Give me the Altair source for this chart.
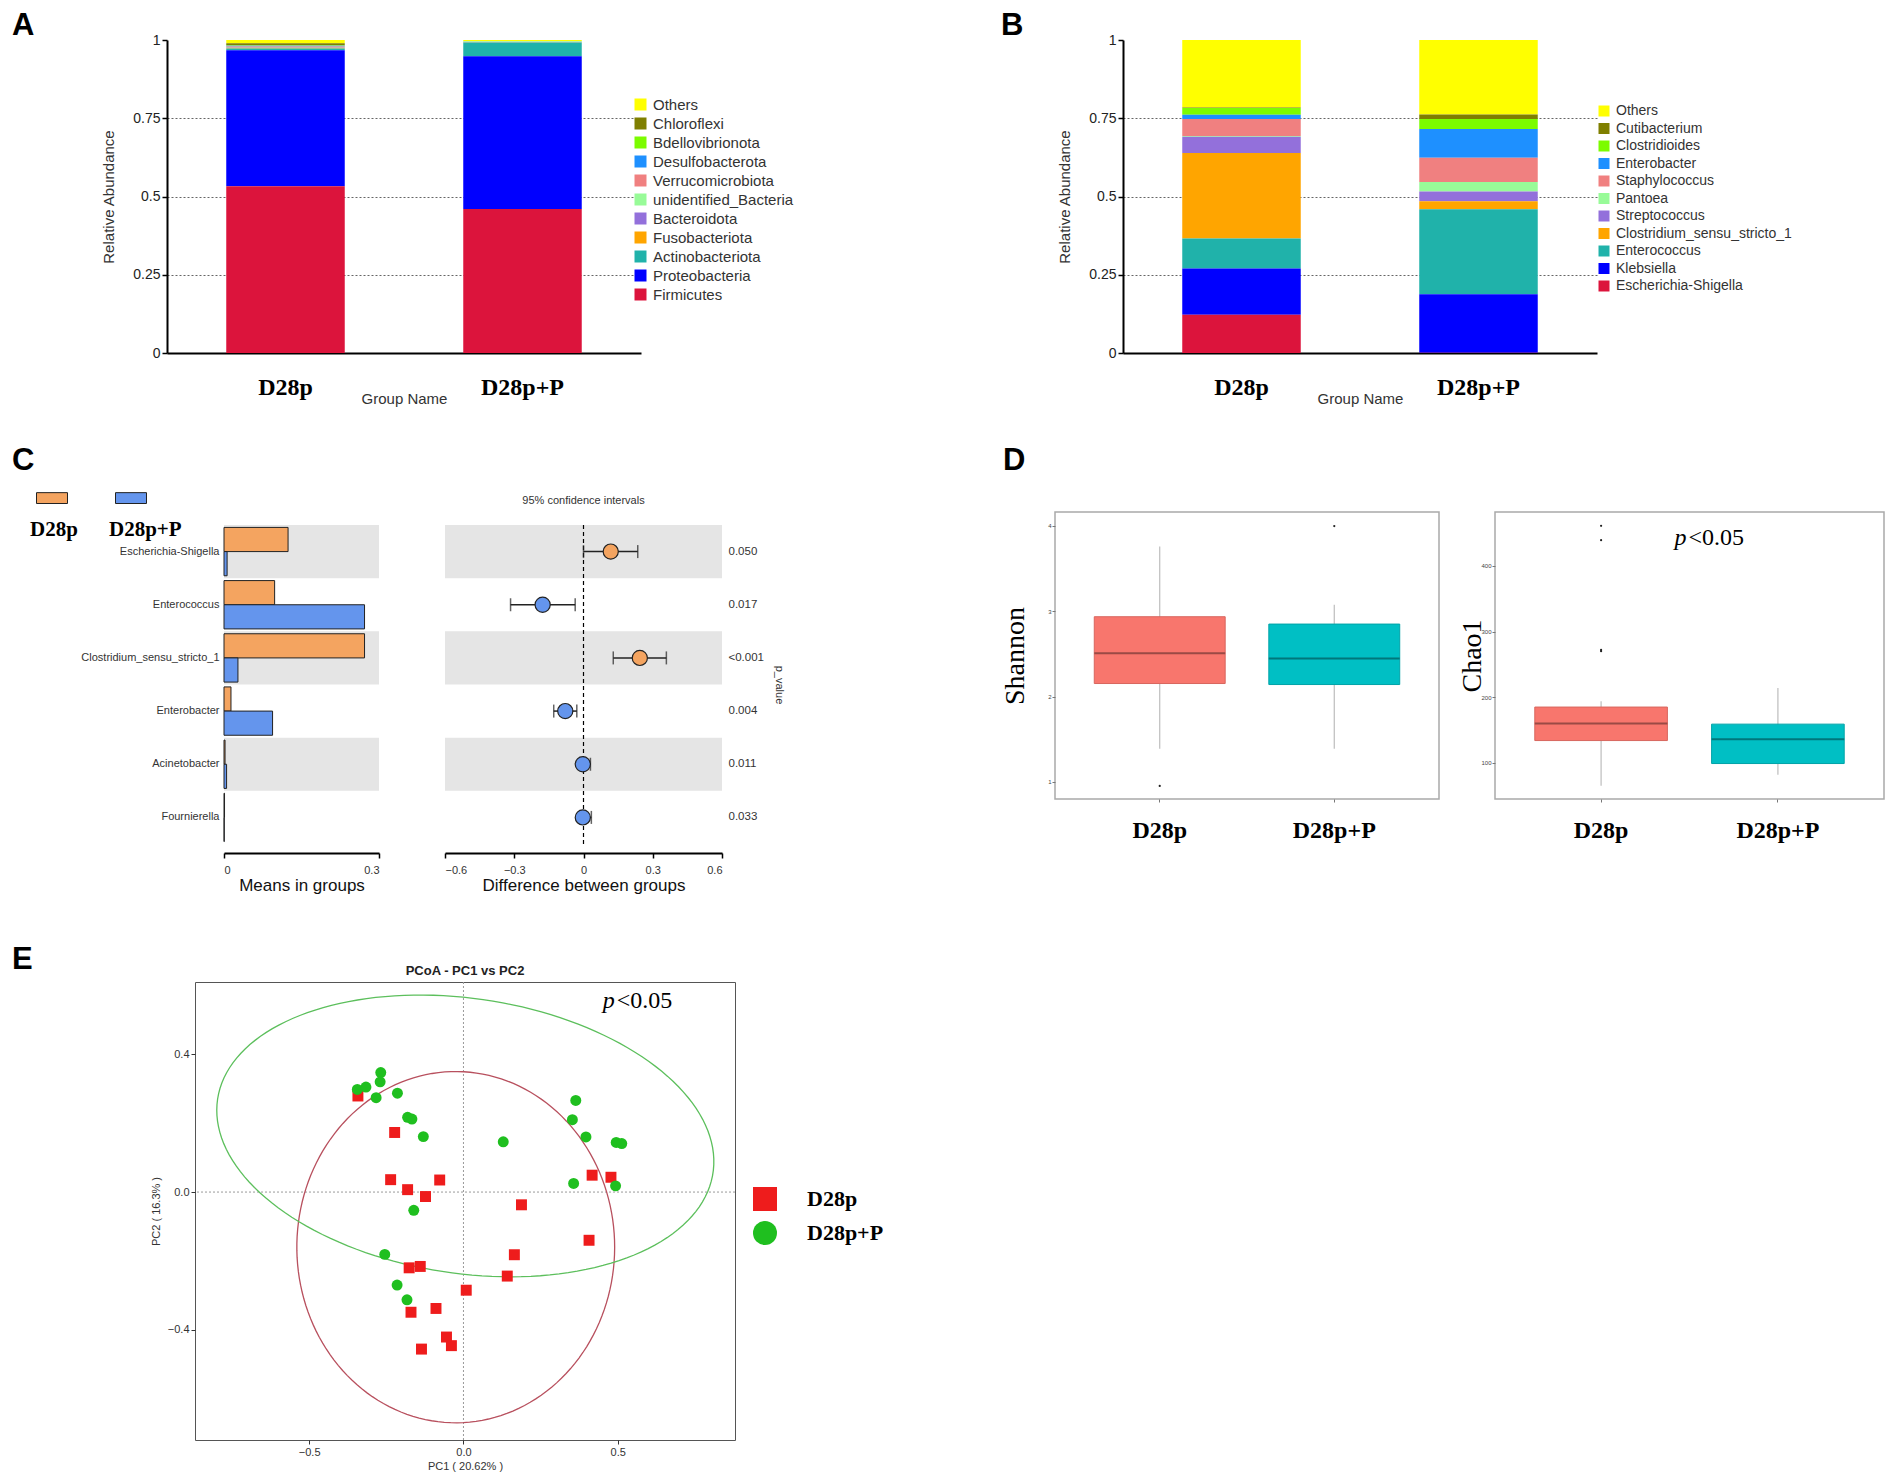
import altair as alt
import pandas as pd

SANS = "Liberation Sans, Arial, sans-serif"
NARROW = "Liberation Sans Narrow, Arial Narrow, Liberation Sans, sans-serif"
SERIF = "Liberation Serif, Times New Roman, serif"

GROUPS = ["D28p", "D28p+P"]

# ---------------- Panel A (phylum level) ----------------
PHYLA = ["Others", "Chloroflexi", "Bdellovibrionota", "Desulfobacterota", "Verrucomicrobiota",
         "unidentified_Bacteria", "Bacteroidota", "Fusobacteriota", "Actinobacteriota",
         "Proteobacteria", "Firmicutes"]
PHYLA_D28P = [0.010, 0.007, 0.001, 0.003, 0.001, 0.001, 0.002, 0.002, 0.006, 0.434, 0.533]
PHYLA_D28PP = [0.004, 0.000, 0.000, 0.001, 0.000, 0.001, 0.001, 0.001, 0.044, 0.488, 0.460]

# ---------------- Panel B (genus level) ----------------
GENERA = ["Others", "Cutibacterium", "Clostridioides", "Enterobacter", "Staphylococcus", "Pantoea",
          "Streptococcus", "Clostridium_sensu_stricto_1", "Enterococcus", "Klebsiella",
          "Escherichia-Shigella"]
GENERA_D28P = [0.216, 0.001, 0.022, 0.013, 0.055, 0.002, 0.052, 0.273, 0.096, 0.148, 0.122]
GENERA_D28PP = [0.238, 0.014, 0.032, 0.092, 0.078, 0.030, 0.031, 0.026, 0.271, 0.187, 0.001]

TAXA_COLORS = ["#FFFF00", "#7F7F00", "#7CFC00", "#1E90FF", "#F08080", "#98FB98",
               "#9370DB", "#FFA500", "#20B2AA", "#0000FF", "#DC143C"]

# ---------------- Panel C (STAMP) ----------------
C_GENERA = ["Escherichia-Shigella", "Enterococcus", "Clostridium_sensu_stricto_1",
            "Enterobacter", "Acinetobacter", "Fournierella"]
MEAN_D28P = [0.124, 0.098, 0.272, 0.0135, 0.002, 0.001]
MEAN_D28PP = [0.006, 0.272, 0.027, 0.094, 0.005, 0.0005]
DIFF = [0.118, -0.177, 0.244, -0.079, -0.003, -0.003]
CI_LO = [0.000, -0.316, 0.129, -0.129, -0.012, -0.012]
CI_HI = [0.235, -0.036, 0.359, -0.029, 0.030, 0.034]
DIFF_GROUP = ["D28p", "D28p+P", "D28p", "D28p+P", "D28p+P", "D28p+P"]
P_VALUES = ["0.050", "0.017", "<0.001", "0.004", "0.011", "0.033"]
C_COLORS = ["#F4A460", "#6495ED"]
ZERO = [0.0]

# ---------------- Panel D (alpha diversity) ----------------
BOX_COLORS = ["#F8766D", "#00BFC4"]
BOX_EDGE_COLORS = ["#D8665E", "#00A3A8"]
BOX_MEDIAN_COLORS = ["#9A4A45", "#00777B"]
SHANNON_LO = [1.389, 1.389]
SHANNON_Q1 = [2.152, 2.140]
SHANNON_MED = [2.506, 2.444]
SHANNON_Q3 = [2.934, 2.848]
SHANNON_HI = [3.755, 3.074]
SHANNON_OUT_GROUP = ["D28p", "D28p+P"]
SHANNON_OUT = [0.953, 3.996]
CHAO_LO = [65, 82]
CHAO_Q1 = [134, 99]
CHAO_MED = [160, 136]
CHAO_Q3 = [185, 159]
CHAO_HI = [194, 214]
CHAO_OUT_GROUP = ["D28p", "D28p", "D28p", "D28p"]
CHAO_OUT = [270, 272, 439, 461]
CHAO_P_Y = [442]

# ---------------- Panel E (PCoA) ----------------
D28P_PC1 = [-0.342, -0.223, -0.236, -0.181, -0.123, -0.077, 0.188, 0.417, 0.478, 0.407,
            0.165, 0.142, -0.176, -0.140, 0.009, -0.089, -0.170, -0.055, -0.039, -0.136]
D28P_PC2 = [0.279, 0.173, 0.036, 0.007, -0.013, 0.035, -0.037, 0.049, 0.043, -0.140,
            -0.182, -0.244, -0.220, -0.216, -0.285, -0.338, -0.349, -0.421, -0.446, -0.456]
D28PP_PC1 = [-0.344, -0.316, -0.268, -0.270, -0.283, -0.214, -0.181, -0.167, -0.130, 0.129,
             0.364, 0.353, 0.397, 0.495, 0.513, 0.357, 0.493, -0.161, -0.255, -0.215, -0.183]
D28PP_PC2 = [0.298, 0.305, 0.347, 0.320, 0.274, 0.287, 0.217, 0.212, 0.161, 0.146,
             0.266, 0.210, 0.160, 0.144, 0.141, 0.025, 0.018, -0.053, -0.181, -0.270, -0.313]
PCOA_COLORS = ["#EE1C1C", "#1FBF1F"]
ELLIPSE_CX = [-0.025, 0.006]
ELLIPSE_CY = [-0.160, 0.163]
ELLIPSE_A = [0.515, 0.81]
ELLIPSE_B = [0.510, 0.40]
ELLIPSE_ANGLE_DEG = [0, -7]
ELLIPSE_COLORS = ["#B8505E", "#5CBF5C"]
PCOA_P_POS = [0.49, 0.556]


def num(v):
    return {"expr": str(v)}


def letter_title(text, dx, offset):
    return alt.TitleParams(text, anchor="start", frame="group", dx=dx, offset=num(offset),
                           fontSize=31, font=SANS, fontWeight="bold", color="black",
                           baseline="alphabetic")


def spacer():
    return alt.Chart(pd.DataFrame({"s": [0]})).mark_point(opacity=0, size=0).properties(
        width=1, height=1)


def hwrap(chart):
    # a 1px spacer first: the wrapper's origin becomes the left edge of the chart's bounds
    return alt.hconcat(spacer(), chart, spacing=0).resolve_scale(
        color="independent", fill="independent", shape="independent", stroke="independent")


def vwrap(chart):
    # a 1px spacer on top: the wrapper's origin becomes the top edge of the chart's bounds
    return alt.vconcat(spacer(), chart, spacing=0).resolve_scale(
        color="independent", fill="independent", shape="independent", stroke="independent")


# ---------------- stacked bar panels ----------------
def stacked_chart(taxa, v1, v2, letter, letter_dx, legend_x, legend_y, label_size, row_pad, sym):
    rows = []
    for g, vals in zip(GROUPS, (v1, v2)):
        for i, (t, v) in enumerate(zip(taxa, vals)):
            rows.append({"group": g, "taxon": t, "value": v, "rank": len(taxa) - 1 - i})
    df = pd.DataFrame(rows)
    return alt.Chart(df).mark_bar().encode(
        x=alt.X("group:N", sort=GROUPS,
                scale=alt.Scale(domain=GROUPS, paddingInner=0.5, paddingOuter=0.25),
                axis=alt.Axis(title="Group Name", labelAngle=0, labelFont=SERIF,
                              labelFontWeight="bold", labelFontSize=24, labelColor="black",
                              labelPadding=22, ticks=False, tickSize=0, domainColor="black",
                              domainWidth=2, titleFont=NARROW, titleFontSize=15,
                              titleFontWeight="normal", titleColor="#333", titlePadding=num(-8))),
        y=alt.Y("value:Q", stack="zero", scale=alt.Scale(domain=[0, 1], nice=False),
                axis=alt.Axis(title="Relative Abundance", values=[0, 0.25, 0.5, 0.75, 1],
                              labelExpr="'' + datum.value", labelFont=NARROW, labelFontSize=14,
                              labelColor="#222", tickColor="black", tickSize=5, tickWidth=1.5,
                              domainColor="black", domainWidth=2, grid=True, gridColor="#666",
                              gridDash=[2, 2], gridWidth=1,
                              gridOpacity={"condition": {"test": "datum.value > 0.01 && datum.value < 0.99",
                                                         "value": 1}, "value": 0},
                              titleFont=SANS, titleFontSize=15, titleFontWeight="normal",
                              titleColor="#333", titlePadding=16)),
        color=alt.Color("taxon:N", scale=alt.Scale(domain=taxa, range=TAXA_COLORS),
                        legend=alt.Legend(title=None, orient="none", legendX=legend_x,
                                          legendY=legend_y, symbolType="square",
                                          symbolSize=sym, symbolStrokeWidth=0,
                                          labelFont=NARROW, labelFontSize=label_size,
                                          labelColor="#333", rowPadding=row_pad, labelOffset=5,
                                          labelLimit=400)),
        order=alt.Order("rank:Q", sort="ascending"),
    ).properties(width=474, height=313, title=letter_title(letter, letter_dx, -33))


chart_a = stacked_chart(PHYLA, PHYLA_D28P, PHYLA_D28PP, "A", -155, 466, 57, 15, 3, 144)
chart_b = stacked_chart(GENERA, GENERA_D28P, GENERA_D28PP, "B", -122, 474, 64, 14, 3.5, 121)
row1 = alt.hconcat(chart_a, chart_b, spacing=482, bounds="flush").resolve_scale(color="independent")

# ---------------- Panel C ----------------
mean_rows = []
for g, vals in zip(GROUPS, (MEAN_D28P, MEAN_D28PP)):
    for gen, v in zip(C_GENERA, vals):
        mean_rows.append({"genus": gen, "group": g, "mean": v})
mean_df = pd.DataFrame(mean_rows)
shade_df = pd.DataFrame({"genus": C_GENERA[0::2]})
diff_df = pd.DataFrame({"genus": C_GENERA, "diff": DIFF, "lo": CI_LO, "hi": CI_HI, "group": DIFF_GROUP})
zero_df = pd.DataFrame({"zero": ZERO})

c_yscale = alt.Scale(domain=C_GENERA, paddingInner=0, paddingOuter=0)


def c_x_axis(title, values):
    return alt.Axis(title=title, values=values, format="~g", offset=9, grid=False,
                    domainColor="black", domainWidth=2, tickColor="black", tickWidth=1.5,
                    tickSize=5, labelFont=NARROW, labelFontSize=11, labelColor="#333",
                    labelPadding=6, titleFont=NARROW, titleFontSize=17,
                    titleFontWeight="normal", titleColor="#111", titlePadding=2)


mean_y = alt.Y("genus:N", sort=C_GENERA, scale=c_yscale,
               axis=alt.Axis(title=None, domain=False, ticks=False, labelFont=NARROW,
                             labelFontSize=11, labelColor="#333", labelPadding=5))
mean_x_scale = alt.Scale(domain=[0, 0.3], nice=False)

means_bg = alt.Chart(shade_df).mark_rect(color="#E5E5E5").encode(y=mean_y)
means_bars = alt.Chart(mean_df).mark_bar(stroke="#222", strokeWidth=1).encode(
    x=alt.X("mean:Q", scale=mean_x_scale, axis=c_x_axis("Means in groups", [0, 0.3])),
    y=mean_y,
    yOffset=alt.YOffset("group:N", sort=GROUPS,
                        scale=alt.Scale(domain=GROUPS, paddingOuter=0.1, paddingInner=0)),
    fill=alt.Fill("group:N", scale=alt.Scale(domain=GROUPS, range=C_COLORS),
                  legend=alt.Legend(title=None, orient="none", legendX=-188, legendY=-22,
                                    direction="horizontal", symbolType="M-1,-1.7H1V-1H-1Z",
                                    symbolSize=961, symbolStrokeColor="#222",
                                    symbolStrokeWidth=1, labelFont=SERIF,
                                    labelFontWeight="bold", labelFontSize=21,
                                    labelColor="black", labelBaseline="top",
                                    labelOffset=num(-38), columnPadding=31)),
)
means = alt.layer(means_bg, means_bars).properties(width=155, height=319)

p_expr = " : ".join(f"datum.value == '{g}' ? '{p}'" for g, p in zip(C_GENERA, P_VALUES)) + " : ''"
diff_y = alt.Y("genus:N", sort=C_GENERA, scale=c_yscale,
               axis=alt.Axis(orient="right", labelExpr=p_expr, domain=False, ticks=False,
                             labelFont=NARROW, labelFontSize=11.5, labelColor="#333",
                             labelPadding=6, title="p_value", titleFont=NARROW,
                             titleFontSize=11, titleFontWeight="normal", titleColor="#333",
                             titlePadding=10))
diff_x_scale = alt.Scale(domain=[-0.6, 0.6], nice=False)
diff_axis = c_x_axis("Difference between groups", [-0.6, -0.3, 0, 0.3, 0.6])


def dx_enc(field):
    return alt.X(f"{field}:Q", scale=diff_x_scale, axis=diff_axis, title="Difference between groups")


diff_bg = alt.Chart(shade_df).mark_rect(color="#E5E5E5").encode(y=diff_y)
diff_zero = alt.Chart(zero_df).mark_rule(color="black", strokeDash=[4, 3], strokeWidth=1.2).encode(
    x=dx_enc("zero"))
diff_err = alt.Chart(diff_df).mark_rule(color="#222", strokeWidth=1.5).encode(
    x=dx_enc("lo"), x2="hi:Q", y=diff_y)
diff_cap_lo = alt.Chart(diff_df).mark_tick(color="#222", thickness=1.5, size=13).encode(
    x=dx_enc("lo"), y=diff_y)
diff_cap_hi = alt.Chart(diff_df).mark_tick(color="#222", thickness=1.5, size=13).encode(
    x=dx_enc("hi"), y=diff_y)
diff_pts = alt.Chart(diff_df).mark_point(filled=True, size=230, stroke="#222", strokeWidth=1.2,
                                         opacity=1).encode(
    x=dx_enc("diff"), y=diff_y,
    fill=alt.Fill("group:N", scale=alt.Scale(domain=GROUPS, range=C_COLORS), legend=None))
diff = alt.layer(diff_bg, diff_zero, diff_err, diff_cap_lo, diff_cap_hi, diff_pts).properties(
    width=277, height=319,
    title=alt.TitleParams("95% confidence intervals", fontSize=11, fontWeight="normal",
                          font=NARROW, color="#333", offset=18))

panel_c = alt.hconcat(means, diff, spacing=66, bounds="flush",
                      title=letter_title("C", -212, -6)).resolve_scale(fill="independent")


# ---------------- Panel D ----------------
def box_chart(lo, q1, med, q3, hi, out_groups, out_vals, domain, ticks, ytitle, width,
              title_pad, p_y=None):
    df = pd.DataFrame({"group": GROUPS, "lo": lo, "q1": q1, "med": med, "q3": q3, "hi": hi})
    odf = pd.DataFrame({"group": out_groups, "out": out_vals})
    x = alt.X("group:N", sort=GROUPS,
              scale=alt.Scale(domain=GROUPS, paddingInner=0.25, paddingOuter=0.225),
              axis=alt.Axis(title=None, labelAngle=0, labelFont=SERIF, labelFontWeight="bold",
                            labelFontSize=24, labelColor="black", labelPadding=16, tickSize=3,
                            tickColor="#777", domain=False))
    yax = alt.Axis(title=ytitle, values=ticks, labelFontSize=6, labelColor="#444", tickSize=3,
                   tickColor="#777", domain=False, grid=False, labelPadding=1,
                   titleFont=SERIF, titleFontSize=28, titleFontWeight="normal",
                   titleColor="black", titlePadding=num(title_pad))
    ysc = alt.Scale(domain=domain, nice=False, zero=False)

    def yenc(f):
        return alt.Y(f"{f}:Q", scale=ysc, axis=yax, title=ytitle)

    bw = width / 2.2 * 0.75
    layers = [
        alt.Chart(df).mark_rule(color="#BDBDBD", strokeWidth=1.2).encode(x=x, y=yenc("lo"), y2="hi:Q"),
        alt.Chart(df).mark_bar(strokeWidth=1).encode(
            x=x, y=yenc("q1"), y2="q3:Q",
            fill=alt.Fill("group:N", scale=alt.Scale(domain=GROUPS, range=BOX_COLORS), legend=None),
            stroke=alt.Stroke("group:N", scale=alt.Scale(domain=GROUPS, range=BOX_EDGE_COLORS),
                              legend=None)),
        alt.Chart(df).mark_tick(thickness=2, size=bw, opacity=1).encode(
            x=x, y=yenc("med"),
            color=alt.Color("group:N", scale=alt.Scale(domain=GROUPS, range=BOX_MEDIAN_COLORS),
                            legend=None)),
        alt.Chart(odf).mark_circle(size=5, color="#222", opacity=1).encode(x=x, y=yenc("out")),
    ]
    if p_y is not None:
        pdf = pd.DataFrame({"py": p_y})
        layers.append(alt.Chart(pdf).mark_text(text="p", font=SERIF, fontStyle="italic", fontSize=24,
                                               align="right", baseline="middle", dx=-3,
                                               color="black").encode(y=yenc("py")))
        layers.append(alt.Chart(pdf).mark_text(text="<0.05", font=SERIF, fontSize=24,
                                               align="left", baseline="middle", dx=-1,
                                               color="black").encode(y=yenc("py")))
    return alt.layer(*layers).properties(
        width=width, height=287, view=alt.ViewBackground(stroke="#A9A9A9", strokeWidth=1.5))


shannon = box_chart(SHANNON_LO, SHANNON_Q1, SHANNON_MED, SHANNON_Q3, SHANNON_HI,
                    SHANNON_OUT_GROUP, SHANNON_OUT, [0.8, 4.16], [1, 2, 3, 4], "Shannon", 384, 18)
chao = box_chart(CHAO_LO, CHAO_Q1, CHAO_MED, CHAO_Q3, CHAO_HI, CHAO_OUT_GROUP, CHAO_OUT,
                 [45, 482], [100, 200, 300, 400], "Chao1", 389, -6, CHAO_P_Y)
panel_d = alt.hconcat(shannon, chao, spacing=56, bounds="flush",
                      title=letter_title("D", -52, 10)).resolve_scale(
    fill="independent", stroke="independent", color="independent")

row2 = alt.concat(vwrap(panel_c), vwrap(panel_d), columns=2, align="none", spacing=215).resolve_scale(
    fill="independent", stroke="independent", color="independent")

# ---------------- Panel E ----------------
pts_df = pd.DataFrame({
    "group": [GROUPS[0]] * len(D28P_PC1) + [GROUPS[1]] * len(D28PP_PC1),
    "pc1": D28P_PC1 + D28PP_PC1,
    "pc2": D28P_PC2 + D28PP_PC2,
})
ex_scale = alt.Scale(domain=[-0.87, 0.88], nice=False, zero=False)
ey_scale = alt.Scale(domain=[-0.72, 0.61], nice=False, zero=False)
ex_axis = alt.Axis(title="PC1 ( 20.62% )", values=[-0.5, 0, 0.5], format=".1f", grid=False,
                   domain=False, tickSize=4, tickColor="#333", labelFont=NARROW, labelFontSize=11,
                   labelColor="#333", titleFont=SANS, titleFontSize=11, titleFontWeight="normal",
                   titleColor="#333", titlePadding=3)
ey_axis = alt.Axis(title="PC2 ( 16.3% )", values=[-0.4, 0, 0.4], format=".1f", grid=False,
                   domain=False, tickSize=4, tickColor="#333", labelFont=NARROW, labelFontSize=11,
                   labelColor="#333", titleFont=SANS, titleFontSize=11, titleFontWeight="normal",
                   titleColor="#333", titlePadding=6)


def ex(f):
    return alt.X(f"{f}:Q", scale=ex_scale, axis=ex_axis, title="PC1 ( 20.62% )")


def ey(f):
    return alt.Y(f"{f}:Q", scale=ey_scale, axis=ey_axis, title="PC2 ( 16.3% )")


zero_e = pd.DataFrame({"zero": ZERO})
e_layers = [
    alt.Chart(zero_e).mark_rule(color="#999", strokeDash=[2, 2], strokeWidth=1).encode(x=ex("zero")),
    alt.Chart(zero_e).mark_rule(color="#999", strokeDash=[2, 2], strokeWidth=1).encode(y=ey("zero")),
]
for cx, cy, a, b, ang, col in zip(ELLIPSE_CX, ELLIPSE_CY, ELLIPSE_A, ELLIPSE_B,
                                   ELLIPSE_ANGLE_DEG, ELLIPSE_COLORS):
    th = f"({ang} * PI / 180)"
    e_layers.append(
        alt.Chart(alt.sequence(0, 6.36, 0.04, as_="t")).transform_calculate(
            ex_=f"{cx} + {a} * cos(datum.t) * cos({th}) - {b} * sin(datum.t) * sin({th})",
            ey_=f"{cy} + {a} * cos(datum.t) * sin({th}) + {b} * sin(datum.t) * cos({th})",
        ).mark_line(color=col, strokeWidth=1.3).encode(
            x=ex("ex_"), y=ey("ey_"), order=alt.Order("t:Q"))
    )
e_legend = alt.Legend(title=None, orient="none", legendX=558, legendY=205, symbolSize=576,
                      symbolStrokeWidth=0, labelFont=SERIF, labelFontWeight="bold",
                      labelFontSize=22, labelColor="black", labelOffset=30, rowPadding=10)
e_layers.append(
    alt.Chart(pts_df).mark_point(filled=True, size=120, opacity=1).encode(
        x=ex("pc1"), y=ey("pc2"),
        color=alt.Color("group:N", scale=alt.Scale(domain=GROUPS, range=PCOA_COLORS), legend=e_legend),
        shape=alt.Shape("group:N", scale=alt.Scale(domain=GROUPS, range=["square", "circle"]),
                        legend=e_legend),
    )
)
ppos = pd.DataFrame({"px": [PCOA_P_POS[0]], "py": [PCOA_P_POS[1]]})
e_layers.append(alt.Chart(ppos).mark_text(text="p", font=SERIF, fontStyle="italic", fontSize=24,
                                          align="right", baseline="middle", color="black").encode(
    x=ex("px"), y=ey("py")))
e_layers.append(alt.Chart(ppos).mark_text(text="<0.05", font=SERIF, fontSize=24, align="left",
                                          baseline="middle", dx=2, color="black").encode(
    x=ex("px"), y=ey("py")))
pcoa = alt.layer(*e_layers).properties(
    width=540, height=458, view=alt.ViewBackground(stroke="#555", strokeWidth=1),
    title=alt.TitleParams("PCoA - PC1 vs PC2", fontSize=13, fontWeight="bold", font=SANS,
                          color="#222", offset=4))
row3 = alt.hconcat(pcoa, bounds="flush", title=letter_title("E", -183, -36))

upper = alt.concat(hwrap(row1), hwrap(row2), columns=1, align="none", spacing=38).resolve_scale(
    color="independent", fill="independent", stroke="independent")
top = alt.concat(upper, hwrap(row3), columns=1, align="none", spacing=51).resolve_scale(
    color="independent", fill="independent", shape="independent", stroke="independent")
top = top.properties(padding={"left": 3, "top": 2, "right": 5, "bottom": 4},
                     background="white").configure_view(strokeWidth=0)

top.save("out.html", embed_options={"renderer": "svg", "actions": False})
